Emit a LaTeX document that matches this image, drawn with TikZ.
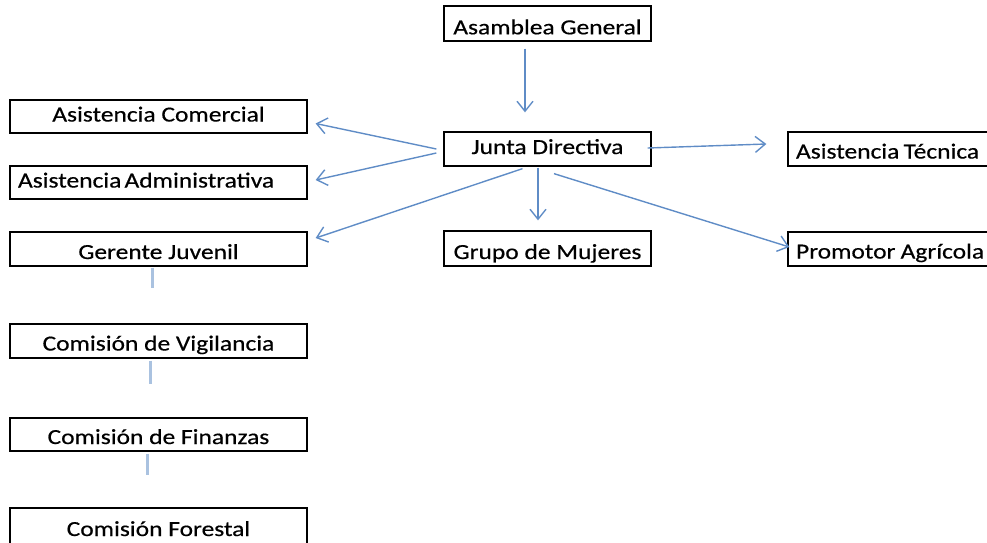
\documentclass[tikz,border=0pt]{standalone}
\usepackage{fontspec}
\setmainfont{Carlito}[FakeStretch=1.185,FakeBold=0.5]
\usetikzlibrary{arrows.meta,calc}
\definecolor{arrblue}{RGB}{95,140,198}
\definecolor{lineblue}{RGB}{170,194,224}
\tikzset{
  box/.style={draw=black,line width=1.3pt,rectangle,inner sep=0pt,font=\fontsize{21.5}{23}\selectfont,text height=20pt,text depth=1pt},
  toff/.style={text height=#1pt},
  wbox/.style={box,minimum width=297pt},
  cbox/.style={box,minimum width=207pt},
  arr/.style={draw=arrblue,line width=1.4pt,-{Straight Barb[length=10pt,width=16pt,line width=1.4pt]}},
  vline/.style={draw=lineblue,line width=3pt}
}
\begin{document}
\begin{tikzpicture}[x=1pt,y=-1pt]
\useasboundingbox (0,0) rectangle (987,542);
\clip (0,0) rectangle (987,542);
\node[cbox,minimum height=35pt,toff=22.6] (ag) at (547.5,23.5) {Asamblea General};
\node[cbox,minimum height=34pt,toff=11] (jd) at (547.5,149) {Junta Directiva};
\node[wbox,minimum height=33pt,toff=11] (ac) at (158.5,116.5) {Asistencia Comercial};
\node[wbox,minimum height=33pt,toff=11,text width=281pt,align=left] (aa) at (158.5,182.5) {Asistencia\hspace{-4pt} Administrativa};
\node[wbox,minimum height=34pt,toff=21] (gj) at (158.5,249) {Gerente Juvenil};
\node[cbox,minimum height=35pt,toff=22] (gm) at (547.5,248.5) {Grupo de Mujeres};
\node[box,minimum width=212pt,minimum height=34pt,text width=196pt,align=left] (at) at (894,149) {Asistencia\hspace{-3pt} T\'ecnica};
\node[box,minimum width=212pt,minimum height=34pt,text width=196pt,align=left] (pa) at (894,249) {Promotor\hspace{-2pt} Agr\'icola};
\node[wbox,minimum height=34pt] (cv) at (158.5,341) {Comisi\'on de Vigilancia};
\node[wbox,minimum height=33pt] (cf) at (158.5,434.5) {Comisi\'on de Finanzas};
\node[wbox,minimum height=37pt] (cfo) at (158.5,526.5) {Comisi\'on Forestal};

\draw[arr] ($(ag.south)+(-22.5,7)$) -- ($(jd.north)+(-22.5,-19)$);
\draw[arr] ($(jd.west)+(-7,0)$) -- ($(ac.east)+(8,7)$);
\draw[arr] ($(jd.west)+(-7,4)$) -- ($(aa.east)+(8,-2.5)$);
\draw[arr] ($(jd.south)+(-25,2)$) -- ($(gj.east)+(8,-11)$);
\draw[arr] ($(jd.south)+(-9.5,1)$) -- ($(gm.north)+(-9.5,-10)$);
\draw[arr] ($(jd.east)+(-4,-1)$) -- ($(at.west)+(-21,-5)$);
\draw[arr] ($(jd.south)+(6.5,7)$) -- ($(pa.west)+(2,-2)$);

\draw[vline] ($(gj.south)+(-6.5,1)$) -- ($(cv.north)+(-6.5,-35)$);
\draw[vline] ($(cv.south)+(-8.5,2)$) -- ($(cf.north)+(-8.5,-33)$);
\draw[vline] ($(cf.south)+(-11.5,2)$) -- ($(cfo.north)+(-11.5,-32)$);
\end{tikzpicture}
\end{document}
